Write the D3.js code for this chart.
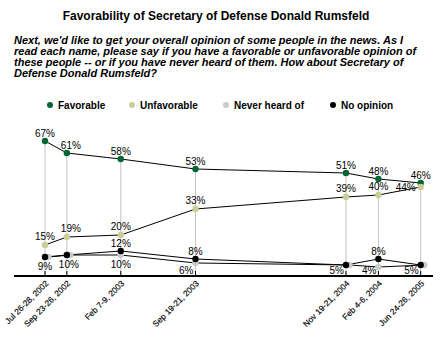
<!DOCTYPE html>
<html>
<head>
<meta charset="utf-8">
<script src="https://cdn.jsdelivr.net/npm/d3@7"></script>
<style>
  body { margin: 0; background: #fff; }
  svg { display: block; font-family: Arial, "Liberation Sans", sans-serif; }
</style>
</head>
<body>
<div id="central-container"></div>
<script>
// data
var pollDates = ["2002-07", "2002-09", "2003-02", "2003-09", "2004-11", "2005-02", "2005-06"]
var tickLabels = ["Jul 26-28, 2002", "Sep 23-26, 2002", "Feb 7-9, 2003", "Sep 19-21, 2003",
  "Nov 19-21, 2004", "Feb 4-6, 2004", "Jun 24-26, 2005"]
var favorable = [67, 61, 58, 53, 51, 48, 46]
var unfavorable = [15, 19, 20, 33, 39, 40, 44]
var neverHeard = [9, 10, 10, 6, 5, 4, 5]
var noOpinion = [9, 10, 12, 8, 5, 8, 5]
var seriesNames = ["Favorable", "Unfavorable", "Never heard of", "No opinion"]

var questionLines = [
  "Next, we'd like to get your overall opinion of some people in the news. As I",
  "read each name, please say if you have a favorable or unfavorable opinion of",
  "these people -- or if you have never heard of them. How about Secretary of",
  "Defense Donald Rumsfeld?"
]

const width = 440
const height = 339

var svg = d3.select("#central-container")
  .append("svg")
  .attr("width", width)
  .attr("height", height)

var color = d3.scaleOrdinal()
  .domain(seriesNames)
  .range(["#006633", "#cccc99", "#cccccc", "#000000"])

var parseMonth = d3.timeParse("%Y-%m")
var dates = pollDates.map(parseMonth)

// x is by month, y 2px per point
var x = d3.scaleTime()
  .domain(d3.extent(dates))
  .range([45, 420.7])
var y = d3.scaleLinear()
  .domain([0, 100])
  .range([275, 75])

// title + question
svg.append("text")
  .attr("x", 216)
  .attr("y", 20)
  .attr("text-anchor", "middle")
  .style("font-size", "12px")
  .style("font-weight", "bold")
  .text("Favorability of Secretary of Defense Donald Rumsfeld")

svg.append("g")
  .selectAll("text")
  .data(questionLines)
  .enter().append("text")
    .attr("x", 14)
    .attr("y", function(d, i){ return 44 + i * 11 })
    .style("font-size", "11px")
    .style("font-weight", "bold")
    .style("font-style", "italic")
    .text(function(d){ return d })

// legend
var legendX = [50, 132, 226, 333]
var legend = svg.append("g")
  .selectAll("g")
  .data(seriesNames)
  .enter().append("g")
    .attr("transform", function(d, i){ return "translate(" + legendX[i] + ",105)" })
legend.append("circle")
  .attr("r", 3)
  .style("fill", function(d){ return color(d) })
legend.append("text")
  .attr("x", 8)
  .attr("y", 3.5)
  .style("font-size", "10px")
  .style("font-weight", "bold")
  .text(function(d){ return d })

// build point table
var rows = dates.map(function(d, i) {
  return {
    date: d,
    label: tickLabels[i],
    fav: favorable[i],
    unf: unfavorable[i],
    nh: neverHeard[i],
    no: noOpinion[i]
  }
})

// never heard dot is nudged right when it sits under the no opinion dot
function nhX(d) { return x(d.date) + (d.nh == d.no ? 3.5 : 0) }

// grey drop lines from axis up to favorable
svg.append("g")
  .selectAll("line")
  .data(rows)
  .enter().append("line")
    .attr("x1", function(d){ return x(d.date) })
    .attr("x2", function(d){ return x(d.date) })
    .attr("y1", y(0))
    .attr("y2", function(d){ return y(d.fav) })
    .style("stroke", "#c4c4c4")
    .style("stroke-width", 1)

// axis
svg.append("line")
  .attr("x1", 14)
  .attr("x2", 433)
  .attr("y1", y(0) + 1)
  .attr("y2", y(0) + 1)
  .style("stroke", "#000")
  .style("stroke-width", 2)

svg.append("g")
  .selectAll("line")
  .data(rows)
  .enter().append("line")
    .attr("x1", function(d){ return x(d.date) })
    .attr("x2", function(d){ return x(d.date) })
    .attr("y1", y(0) - 4)
    .attr("y2", y(0))
    .style("stroke", "#000")

svg.append("g")
  .selectAll("text")
  .data(rows)
  .enter().append("text")
    .attr("transform", function(d){ return "translate(" + (x(d.date) + 4) + "," + (y(0) + 9) + ") rotate(-45)" })
    .attr("text-anchor", "end")
    .style("font-size", "8.3px")
    .style("stroke", "#000")
    .style("stroke-width", 0.15)
    .text(function(d){ return d.label })

// series lines
var keys = ["fav", "unf", "nh", "no"]
keys.forEach(function(k) {
  var line = d3.line()
    .x(function(d){ return k == "nh" ? nhX(d) : x(d.date) })
    .y(function(d){ return y(d[k]) })
  svg.append("path")
    .datum(rows)
    .attr("d", line)
    .style("fill", "none")
    .style("stroke", "#000")
    .style("stroke-width", 1)
})

// dots
keys.forEach(function(k, j) {
  svg.append("g")
    .selectAll("circle")
    .data(rows)
    .enter().append("circle")
      .attr("cx", function(d){ return k == "nh" ? nhX(d) : x(d.date) })
      .attr("cy", function(d){ return y(d[k]) })
      .attr("r", 3.2)
      .style("fill", color(seriesNames[j]))
})

// value labels
var labels = svg.append("g").style("font-size", "10px")

labels.selectAll(".fav-label")
  .data(rows)
  .enter().append("text")
    .attr("class", "fav-label")
    .attr("x", function(d, i){ return x(d.date) + (i == 1 ? 4 : 0) })
    .attr("y", function(d){ return y(d.fav) - 4.5 })
    .attr("text-anchor", "middle")
    .text(function(d){ return d.fav + "%" })

labels.selectAll(".unf-label")
  .data(rows)
  .enter().append("text")
    .attr("class", "unf-label")
    .attr("x", function(d, i){
      if (d.fav - d.unf < 5) return x(d.date) - 5
      return x(d.date) + (i == 1 ? 4 : 0)
    })
    .attr("y", function(d){ return d.fav - d.unf < 5 ? y(d.unf) + 3.5 : y(d.unf) - 5 })
    .attr("text-anchor", function(d){ return d.fav - d.unf < 5 ? "end" : "middle" })
    .text(function(d){ return d.unf + "%" })

// no opinion above, only when it differs from never heard
labels.selectAll(".no-label")
  .data(rows.filter(function(d){ return d.no != d.nh }))
  .enter().append("text")
    .attr("class", "no-label")
    .attr("x", function(d){ return x(d.date) })
    .attr("y", function(d){ return y(d.no) - 4.5 })
    .attr("text-anchor", "middle")
    .text(function(d){ return d.no + "%" })

// never heard below; tucked left when close to the axis
labels.selectAll(".nh-label")
  .data(rows)
  .enter().append("text")
    .attr("class", "nh-label")
    .attr("x", function(d, i){
      if (d.nh < 8) return x(d.date) - 2
      return x(d.date) + (i == 1 ? 2 : 0)
    })
    .attr("y", function(d){ return d.nh < 8 ? y(0) - 1.5 : y(d.nh) + 12.5 })
    .attr("text-anchor", function(d){ return d.nh < 8 ? "end" : "middle" })
    .text(function(d){ return d.nh + "%" })
</script>
</body>
</html>
